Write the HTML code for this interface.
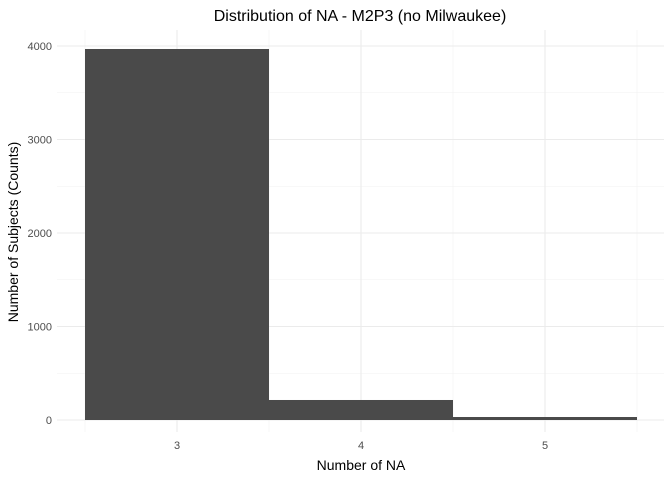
<!DOCTYPE html>
<html><head><meta charset="utf-8"><style>
body{margin:0;background:#fff;font-family:"Liberation Sans",Arial,sans-serif}
</style></head><body>
<svg id="c" width="672" height="480" xmlns="http://www.w3.org/2000/svg"></svg>
<script>
const categories=[3,4,5];
const counts=[3968,214,32];
const yTicks=[0,1000,2000,3000,4000];
const xTicks=[3,4,5];
const svg=document.getElementById('c');
const NS='http://www.w3.org/2000/svg';
const L=57,R=664,T=30,B=432;
const x=v=>177+(v-3)*184;
const y=v=>420-v*0.0935;
function el(t,a,txt){const e=document.createElementNS(NS,t);for(const k in a)e.setAttribute(k,a[k]);if(txt!=null)e.textContent=txt;svg.appendChild(e);return e;}
// minor grid
for(let v=500;v<=4500;v+=1000){if(y(v)<T)continue;const g=el('line',{x1:L,x2:R,y1:y(v),y2:y(v),stroke:'#f2f2f2','stroke-width':0.6});

}
for(let v=2.5;v<=5.5;v+=1){const g=el('line',{x1:x(v),x2:x(v),y1:T,y2:B,stroke:'#f2f2f2','stroke-width':0.6});

}
yTicks.forEach(v=>{const g=el('line',{x1:L,x2:R,y1:y(v),y2:y(v),stroke:'#ebebeb','stroke-width':1.1});


const t=el('text',{x:52,y:y(v)+4,'text-anchor':'end','font-size':11,fill:'#4d4d4d'},v);

});
xTicks.forEach(v=>{const g=el('line',{x1:x(v),x2:x(v),y1:T,y2:B,stroke:'#ebebeb','stroke-width':1.1});


const t=el('text',{x:x(v),y:449,'text-anchor':'middle','font-size':11,fill:'#4d4d4d'},v);

});
categories.forEach((c,i)=>{const b=el('rect',{x:x(c-0.5),y:y(counts[i]),width:x(c+0.5)-x(c-0.5),height:y(0)-y(counts[i]),fill:'#4a4a4a'});

});
let t=el('text',{x:360,y:21,'text-anchor':'middle','font-size':16,fill:'#000'},'Distribution of NA - M2P3 (no Milwaukee)');


t=el('text',{x:361,y:470,'text-anchor':'middle','font-size':14,fill:'#000'},'Number of NA');


t=el('text',{x:0,y:0,'text-anchor':'middle','font-size':14,fill:'#000',transform:'translate(18,232) rotate(-90)'},'Number of Subjects (Counts)');


</script>
</body></html>
